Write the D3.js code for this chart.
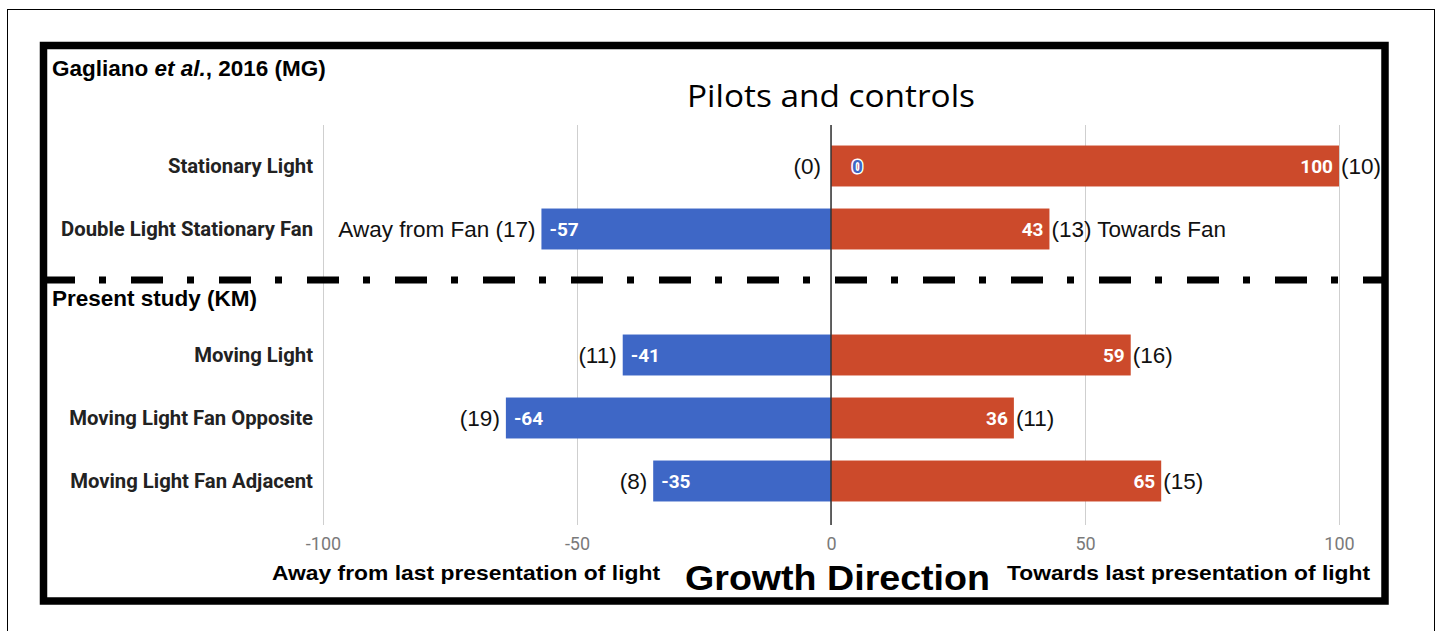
<!DOCTYPE html>
<html>
<head>
<meta charset="utf-8">
<script src="https://cdnjs.cloudflare.com/ajax/libs/d3/7.8.5/d3.min.js"></script>
<style>
    body { margin: 0; background: #fff; }
    svg { display: block; }
</style>
</head>
<body>
<svg id="chart" width="1440" height="631"></svg>
<script>
"use strict";

var categories = ["Stationary Light", "Double Light Stationary Fan", "Moving Light", "Moving Light Fan Opposite", "Moving Light Fan Adjacent"];
// row slot of each category, slot 2 is left free for the "Present study" header
var rowSlots = [0, 1, 3, 4, 5];
var awayValues = [0, -57, -41, -64, -35];
var towardsValues = [100, 43, 59, 36, 65];
var awayCounts = [0, 17, 11, 19, 8];
var towardsCounts = [10, 13, 16, 11, 15];
var awayNotes = ["", "Away from Fan ", "", "", ""];
var towardsNotes = ["", " Towards Fan", "", "", ""];
var tickValues = [-100, -50, 0, 50, 100];

var BLUE = "#3e67c6", RED = "#cc4a2b";
var ARIAL = "'Liberation Sans', Arial, sans-serif";
var ROBOTO = "Roboto, sans-serif";

var svg = d3.select("#chart");

var x = d3.scaleLinear().domain([-100, 100]).range([323, 1339]);
var y = d3.scaleBand()
    .domain(d3.range(6))
    .range([134.5, 512.5])
    .paddingInner(0.35)
    .paddingOuter(0.175);

var rows = categories.map(function (c, i) {
    return {
        name: c, slot: rowSlots[i],
        away: awayValues[i], towards: towardsValues[i],
        awayN: awayCounts[i], towardsN: towardsCounts[i],
        awayNote: awayNotes[i], towardsNote: towardsNotes[i]
    };
});

// frames
svg.append("rect")
    .attr("x", 7.5).attr("y", 9.5).attr("width", 1427).attr("height", 700)
    .attr("fill", "none").attr("stroke", "#000").attr("stroke-width", 1);

// grid + tick labels
var axis = svg.append("g")
    .attr("transform", "translate(0,525)")
    .call(d3.axisBottom(x).tickValues(tickValues).tickSize(-400).tickFormat(function (d) { return String(d); }));
axis.select(".domain").remove();
axis.selectAll("line").attr("stroke", "#cfcfcf");
axis.selectAll("text")
    .attr("y", 25).attr("dy", 0)
    .attr("fill", "#7a7a7a")
    .style("font-family", ROBOTO).style("font-size", "18px");

// bars
svg.selectAll(".awayBar")
    .data(rows)
  .enter().append("rect")
    .attr("class", "awayBar")
    .attr("x", function (d) { return x(d.away); })
    .attr("width", function (d) { return x(0) - x(d.away); })
    .attr("y", function (d) { return y(d.slot); })
    .attr("height", y.bandwidth())
    .attr("fill", BLUE);

svg.selectAll(".towardsBar")
    .data(rows)
  .enter().append("rect")
    .attr("class", "towardsBar")
    .attr("x", x(0))
    .attr("width", function (d) { return x(d.towards) - x(0); })
    .attr("y", function (d) { return y(d.slot); })
    .attr("height", y.bandwidth())
    .attr("fill", RED);

// zero line
svg.append("line")
    .attr("x1", x(0)).attr("x2", x(0))
    .attr("y1", 125).attr("y2", 525)
    .attr("stroke", "#333").attr("stroke-width", 1.5);

function mid(d) { return y(d.slot) + y.bandwidth() / 2; }

// values inside bars
svg.selectAll(".awayVal")
    .data(rows)
  .enter().append("text")
    .attr("class", "awayVal")
    .attr("x", function (d) { return d.away === 0 ? x(0) + 21 : x(d.away) + 8; })
    .attr("y", mid).attr("dy", "0.36em")
    .attr("fill", function (d) { return d.away === 0 ? BLUE : "#fff"; })
    .attr("stroke", function (d) { return d.away === 0 ? "#fff" : "none"; })
    .attr("stroke-width", 3).attr("paint-order", "stroke")
    .style("font-family", ROBOTO).style("font-weight", "bold").style("font-size", "19px")
    .text(function (d) { return String(d.away); });

svg.selectAll(".towardsVal")
    .data(rows)
  .enter().append("text")
    .attr("class", "towardsVal")
    .attr("x", function (d) { return x(d.towards) - 6; })
    .attr("y", mid).attr("dy", "0.36em")
    .attr("text-anchor", "end")
    .attr("fill", "#fff")
    .style("font-family", ROBOTO).style("font-weight", "bold").style("font-size", "19px")
    .text(function (d) { return String(d.towards); });

// counts outside bars
svg.selectAll(".awayN")
    .data(rows)
  .enter().append("text")
    .attr("class", "awayN")
    .attr("x", function (d) { return x(d.away) - (d.away === 0 ? 10 : 6); })
    .attr("y", mid).attr("dy", "0.36em")
    .attr("text-anchor", "end")
    .attr("fill", "#111")
    .style("font-family", ARIAL).style("font-size", "22.5px")
    .text(function (d) { return d.awayNote + "(" + d.awayN + ")"; });

svg.selectAll(".towardsN")
    .data(rows)
  .enter().append("text")
    .attr("class", "towardsN")
    .attr("x", function (d) { return x(d.towards) + 2; })
    .attr("y", mid).attr("dy", "0.36em")
    .attr("fill", "#111")
    .style("font-family", ARIAL).style("font-size", "22.5px")
    .text(function (d) { return "(" + d.towardsN + ")" + d.towardsNote; });

// category labels
svg.selectAll(".cat")
    .data(rows)
  .enter().append("text")
    .attr("class", "cat")
    .attr("x", 313)
    .attr("y", mid).attr("dy", "0.36em")
    .attr("text-anchor", "end")
    .attr("fill", "#222")
    .style("font-family", ROBOTO).style("font-weight", "bold").style("font-size", "20.3px")
    .text(function (d) { return d.name; });

// section divider
svg.append("line")
    .attr("x1", 43).attr("x2", 1382)
    .attr("y1", 280).attr("y2", 280)
    .attr("stroke", "#000").attr("stroke-width", 7)
    .attr("stroke-dasharray", "32 24 7 25");

svg.append("rect")
    .attr("x", 43.5).attr("y", 45.5).attr("width", 1341.5).attr("height", 555.5)
    .attr("fill", "none").attr("stroke", "#000").attr("stroke-width", 7.5);

// titles
var head = svg.append("text")
    .attr("x", 52).attr("y", 76)
    .style("font-family", ARIAL).style("font-weight", "bold").style("font-size", "22.5px");
head.append("tspan").text("Gagliano ");
head.append("tspan").style("font-style", "italic").text("et al.");
head.append("tspan").text(", 2016 (MG)");

svg.append("text")
    .attr("x", 52).attr("y", 306)
    .style("font-family", ARIAL).style("font-weight", "bold").style("font-size", "22.5px")
    .text("Present study (KM)");

svg.append("text")
    .attr("x", 831).attr("y", 107)
    .attr("text-anchor", "middle")
    .attr("textLength", 288).attr("lengthAdjust", "spacingAndGlyphs")
    .style("font-family", "'Open Sans', sans-serif").style("font-size", "31px")
    .text("Pilots and controls");

svg.append("text")
    .attr("x", 272).attr("y", 580)
    .attr("textLength", 388).attr("lengthAdjust", "spacingAndGlyphs")
    .style("font-family", ARIAL).style("font-weight", "bold").style("font-size", "21px")
    .text("Away from last presentation of light");

svg.append("text")
    .attr("x", 1007).attr("y", 580)
    .attr("textLength", 363).attr("lengthAdjust", "spacingAndGlyphs")
    .style("font-family", ARIAL).style("font-weight", "bold").style("font-size", "21px")
    .text("Towards last presentation of light");

svg.append("text")
    .attr("x", 685).attr("y", 590)
    .attr("textLength", 305).attr("lengthAdjust", "spacingAndGlyphs")
    .style("font-family", ARIAL).style("font-weight", "bold").style("font-size", "35px")
    .text("Growth Direction");
</script>
</body>
</html>
